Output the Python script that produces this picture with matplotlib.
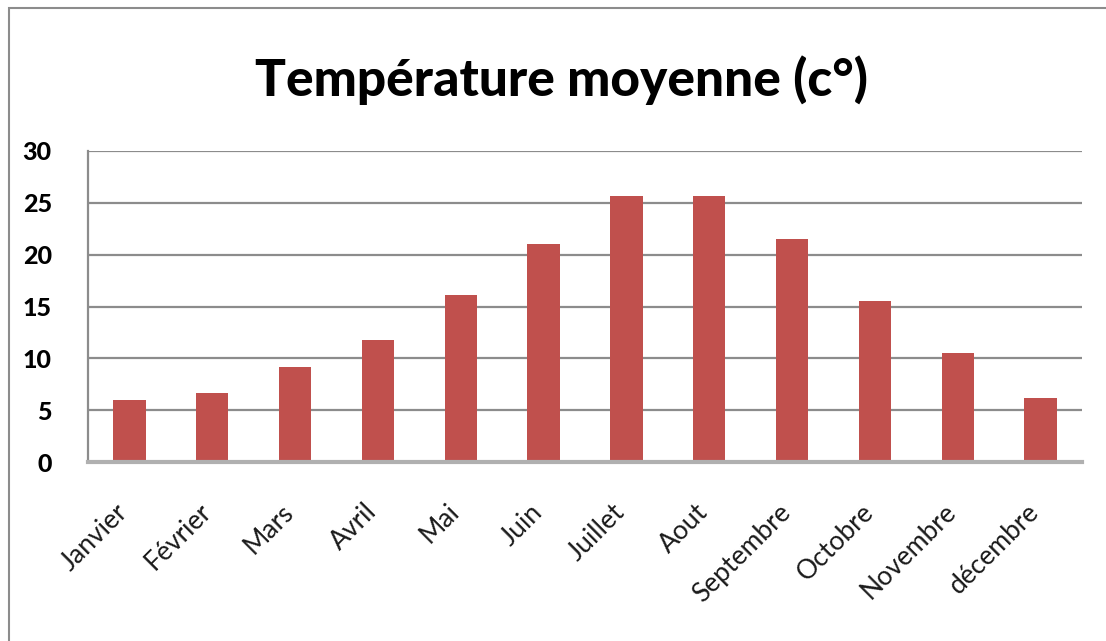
import matplotlib.pyplot as plt
from matplotlib.patches import Rectangle

mois = ["Janvier", "Février", "Mars", "Avril", "Mai", "Juin", "Juillet",
        "Aout", "Septembre", "Octobre", "Novembre", "décembre"]
temperatures = [6.0, 6.7, 9.2, 11.8, 16.1, 21.0, 25.7, 25.7, 21.5, 15.5, 10.5, 6.2]
graduations = [0, 5, 10, 15, 20, 25, 30]

bar_color = "#C0504D"
grid_color = "#8c8c8c"

fig = plt.figure(figsize=(11.06, 6.41), dpi=100)
fig.patch.set_facecolor("white")

# cadre du graphique (déborde à droite et en bas)
fig.add_artist(Rectangle((9 / 1106, -0.05), 1.2, 1 - 8 / 641 + 0.05,
                         transform=fig.transFigure, fill=False,
                         edgecolor="#8c8c8c", linewidth=1.5))

ax = fig.add_axes([88 / 1106, 1 - 462 / 641, (1082 - 88) / 1106, (462 - 151) / 641])
x = range(len(mois))
ax.bar(x, temperatures, width=0.39, color=bar_color, zorder=3)

ax.set_xlim(-0.5, len(mois) - 0.5)
ax.set_ylim(0, 30)
ax.set_yticks(graduations)
ax.yaxis.grid(True, color=grid_color, linewidth=1.6, zorder=0)

for side in ["top", "right"]:
    ax.spines[side].set_visible(False)
ax.spines["left"].set_color(grid_color)
ax.spines["left"].set_linewidth(1.6)
ax.spines["bottom"].set_color("#b0b0b0")
ax.spines["bottom"].set_linewidth(3)
ax.spines["bottom"].set_zorder(4)

ax.tick_params(axis="y", length=0, pad=26, labelsize=18)
ax.tick_params(axis="x", length=0, pad=37)
for lab in ax.get_yticklabels():
    lab.set_fontfamily("Lato")
    lab.set_fontweight("black")

ax.set_xticks(list(x))
ax.set_xticklabels(mois, rotation=45, ha="right", va="baseline",
                   rotation_mode="anchor", fontsize=19, family="Lato",
                   color="#1a1a1a")

fig.text(0.508, 1 - 96 / 641, "Température moyenne (c°)", ha="center",
         va="baseline", fontsize=37, family="Lato", fontweight="black")

fig.savefig("out.png", dpi=100)
